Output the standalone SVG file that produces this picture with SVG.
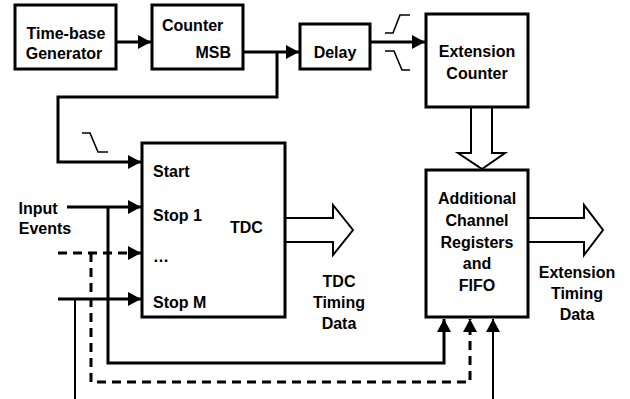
<svg xmlns="http://www.w3.org/2000/svg" width="630" height="399" viewBox="0 0 630 399">
  <style>
    .box { fill: #fff; stroke: #000; stroke-width: 3; }
    .lbl { font-family: "Liberation Sans", Arial, sans-serif; font-weight: bold; font-size: 16px; fill: #000; }
    .mid { text-anchor: middle; }
    .end { text-anchor: end; }
    .wire { fill: none; stroke: #000; stroke-width: 3; }
    .thin { fill: none; stroke: #000; stroke-width: 2; }
    .dash { fill: none; stroke: #000; stroke-width: 3; stroke-dasharray: 9 6; }
    .edge { fill: none; stroke: #000; stroke-width: 1.6; }
    .bus { fill: #fff; stroke: #000; stroke-width: 2; stroke-linejoin: miter; }
  </style>
  <defs>
    <marker id="ah" markerWidth="14" markerHeight="14" refX="13" refY="7" orient="auto" markerUnits="userSpaceOnUse">
      <path d="M0,0 L13,7 L0,14 Z" fill="#000"/>
    </marker>
  </defs>

  <rect width="630" height="399" fill="#fff"/>

  <g id="connectors">
    <!-- clock and counter chain -->
    <path class="wire" d="M116,42 H151" marker-end="url(#ah)"/>
    <path class="wire" d="M243,52 H299" marker-end="url(#ah)"/>
    <path class="wire" d="M370,42 H425" marker-end="url(#ah)"/>
    <!-- MSB tap to TDC start -->
    <path class="wire" d="M277,52 V97 H58 V162 H141" marker-end="url(#ah)"/>
    <!-- stop inputs -->
    <path class="wire" d="M67,207 H141" marker-end="url(#ah)"/>
    <path class="dash" d="M58,253 H141" marker-end="url(#ah)"/>
    <path class="wire" d="M58,299 H141" marker-end="url(#ah)"/>
    <!-- copies of the hits to the channel registers -->
    <path class="wire" d="M108,207 V363 H444 V319" marker-end="url(#ah)"/>
    <path class="dash" d="M91,253 V382 H470 V319" marker-end="url(#ah)"/>
    <path class="thin" d="M75,299 V399"/>
    <path class="thin" d="M493,399 V319" marker-end="url(#ah)"/>
    <!-- edge symbols -->
    <path class="edge" d="M385,33 H393 L400,15 H410"/>
    <path class="edge" d="M385,51 H394 L402,70 H410"/>
    <path class="edge" d="M82,133 H90 L98,152 H108"/>
    <!-- bus arrows -->
    <path class="bus" d="M471,107 V153 H458 L482,169 L505,153 H492 V107"/>
    <path class="bus" d="M285,218 H333 V205 L353,230 L333,255 V242 H285"/>
    <path class="bus" d="M528,218 H584 V205 L603,230 L584,255 V242 H528"/>
  </g>

  <g id="timebase">
    <rect class="box" x="15" y="5" width="101" height="64"/>
    <text class="lbl mid" x="66" y="39">Time-base</text>
    <text class="lbl mid" x="64" y="59">Generator</text>
  </g>

  <g id="counter">
    <rect class="box" x="152" y="5" width="91" height="64"/>
    <text class="lbl" x="162" y="31">Counter</text>
    <text class="lbl end" x="231" y="58">MSB</text>
  </g>

  <g id="delay">
    <rect class="box" x="300" y="24" width="70" height="45"/>
    <text class="lbl mid" x="335" y="58">Delay</text>
  </g>

  <g id="extension-counter">
    <rect class="box" x="426" y="14" width="102" height="93"/>
    <text class="lbl mid" x="477" y="57">Extension</text>
    <text class="lbl mid" x="477" y="79">Counter</text>
  </g>

  <g id="tdc">
    <rect class="box" x="142" y="143" width="143" height="174"/>
    <text class="lbl" x="153" y="177">Start</text>
    <text class="lbl" x="153" y="221">Stop 1</text>
    <text class="lbl" x="230" y="233">TDC</text>
    <text class="lbl" x="153" y="262">…</text>
    <text class="lbl" x="153" y="308">Stop M</text>
  </g>

  <g id="fifo">
    <rect class="box" x="426" y="170" width="102" height="147"/>
    <text class="lbl mid" x="477" y="204">Additional</text>
    <text class="lbl mid" x="477" y="226">Channel</text>
    <text class="lbl mid" x="477" y="248">Registers</text>
    <text class="lbl mid" x="477" y="269">and</text>
    <text class="lbl mid" x="477" y="291">FIFO</text>
  </g>

  <g id="labels">
    <text class="lbl mid" x="38" y="214">Input</text>
    <text class="lbl mid" x="45" y="234">Events</text>
    <text class="lbl mid" x="339" y="287">TDC</text>
    <text class="lbl mid" x="339" y="308">Timing</text>
    <text class="lbl mid" x="339" y="329">Data</text>
    <text class="lbl mid" x="577" y="278">Extension</text>
    <text class="lbl mid" x="577" y="299">Timing</text>
    <text class="lbl mid" x="577" y="320">Data</text>
  </g>
</svg>
